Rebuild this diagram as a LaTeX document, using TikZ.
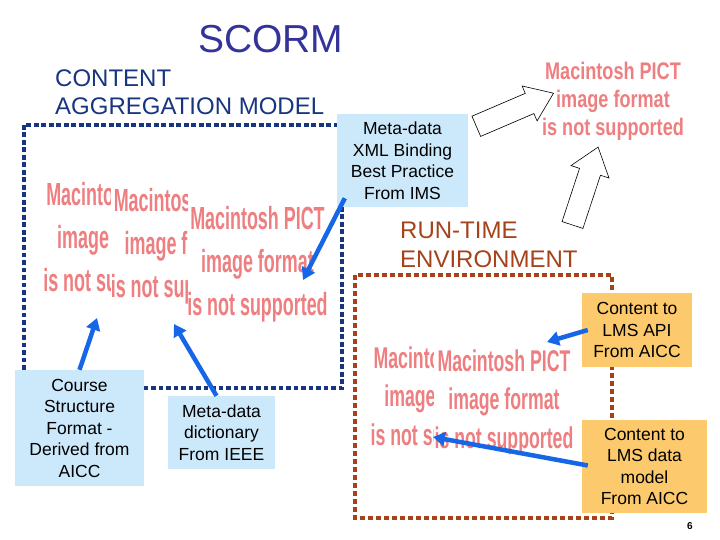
\documentclass[tikz,border=0pt]{standalone}
\usepackage{fontspec}
\setmainfont{Liberation Sans}
\usetikzlibrary{arrows.meta,calc,positioning}
\definecolor{titleblue}{RGB}{51,51,153}
\definecolor{camblue}{RGB}{24,54,128}
\definecolor{rtebrown}{RGB}{166,66,26}
\definecolor{boxblue}{RGB}{204,233,251}
\definecolor{boxorange}{RGB}{252,202,108}
\definecolor{arrowblue}{RGB}{22,102,232}
\definecolor{pictpink}{RGB}{238,126,128}
\tikzset{
  infobox/.style={fill=boxblue,align=center,inner sep=0pt,font=\fontsize{17.5}{21.5}\selectfont},
  aiccbox/.style={infobox,fill=boxorange},
  link/.style={draw=arrowblue,line width=4.5pt,-{Triangle[length=12pt,width=14pt]}},
  pict/.style={text=pictpink,align=center,inner sep=0pt},
  heading/.style={anchor=base west,align=left,inner sep=0pt,font=\fontsize{24}{28.5}\selectfont},
  blockarrow/.style={fill=white,draw=black,line width=0.6pt},
  camframe/.style={draw=camblue,line width=4.7pt,dash pattern=on 4.7pt off 2.8pt},
  rteframe/.style={draw=rtebrown,line width=4.5pt,dash pattern=on 5pt off 3pt}
}

\begin{document}
\begin{tikzpicture}[x=1pt,y=-1pt]
  \useasboundingbox[fill=white] (0,0) rectangle (720,540);
  % titles
  \node[anchor=base west,inner sep=0pt,text=titleblue,font=\fontsize{39}{46}\selectfont] (title) at (198,53) {SCORM};
  \node[heading,text=camblue] (cam) at (55,115) {CONTENT\\AGGREGATION MODEL};
  \node[heading,text=rtebrown] (rte) at (400,267) {RUN-TIME\\ENVIRONMENT};

  % frames
  \draw[camframe] (24,125) rectangle (342,388);
  \draw[rteframe] (355,275) rectangle (612,518);

  % missing pictures
  \begin{scope}
    \clip (0,0) rectangle (110,540);
    \node[pict,font=\bfseries\fontsize{32}{43}\selectfont,xscale=0.56] (pictB1) at (113.5,240) {Macintosh PICT\\image format\\is not supported};
  \end{scope}
  \begin{scope}
    \clip (0,0) rectangle (187,540);
    \node[pict,font=\bfseries\fontsize{32}{43}\selectfont,xscale=0.56] (pictB2) at (181,246) {Macintosh PICT\\image format\\is not supported};
  \end{scope}
  \node[pict,font=\bfseries\fontsize{32}{43}\selectfont,xscale=0.56] (pictB3) at (257.5,264) {Macintosh PICT\\image format\\is not supported};
  \begin{scope}
    \clip (0,0) rectangle (433,540);
    \node[pict,font=\bfseries\fontsize{30}{38.5}\selectfont,xscale=0.59] (pictC1) at (440,399) {Macintosh PICT\\image format\\is not supported};
  \end{scope}
  \node[pict,font=\bfseries\fontsize{30}{38.5}\selectfont,xscale=0.59] (pictC2) at (504,402) {Macintosh PICT\\image format\\is not supported};
  \node[pict,font=\bfseries\fontsize{24}{28}\selectfont,xscale=0.754] (pictA) at (613,101) {Macintosh PICT\\image format\\is not supported};

  % hollow arrows
  \draw[blockarrow,shift={(476.3,126.3)},rotate=23.2] (0,-11) -- (58,-11) -- (58,-19) -- (84,0) -- (58,19) -- (58,11) -- (0,11) -- cycle;
  \draw[blockarrow,shift={(572.5,225)},rotate=71.8] (0,-11) -- (56,-11) -- (56,-20) -- (82,0) -- (56,20) -- (56,11) -- (0,11) -- cycle;

  % boxes
  \node[infobox,minimum width=131pt,minimum height=93pt] (xml) at (402.5,160.5) {Meta-data\\XML Binding\\Best Practice\\From IMS};
  \node[infobox,minimum width=129pt,minimum height=116pt] (course) at (79.5,428) {Course\\Structure\\Format -\\Derived from\\AICC};
  \node[infobox,minimum width=107pt,minimum height=73pt] (ieee) at (221.5,432.5) {Meta-data\\dictionary\\From IEEE};
  \node[aiccbox,minimum width=110pt,minimum height=74pt] (api) at (637,330) {Content to\\LMS API\\From AICC};
  \node[aiccbox,minimum width=125pt,minimum height=93pt] (datamodel) at (644.5,466.5) {Content to\\LMS data\\model\\From AICC};

  % links
  \coordinate (xmltip) at (303,280);
  \coordinate (coursetip) at (97,318);
  \coordinate (ieeetip) at (174,324);
  \coordinate (apitip) at (547,342);
  \coordinate (dmtip) at (433,437);
  \draw[link] ($(xml.south west)+(8,-9)$) -- (xmltip);
  \draw[link] (course.north) -- (coursetip);
  \draw[link] ($(ieee.north)+(-5,0)$) -- (ieeetip);
  \draw[link] ($(api.west)+(6,0)$) -- (apitip);
  \draw[link] ($(datamodel.west)+(6,-1)$) -- (dmtip);

  \node[anchor=base,inner sep=0pt,font=\bfseries\fontsize{10}{12}\selectfont] (pageno) at (690,529) {6};
\end{tikzpicture}
\end{document}
